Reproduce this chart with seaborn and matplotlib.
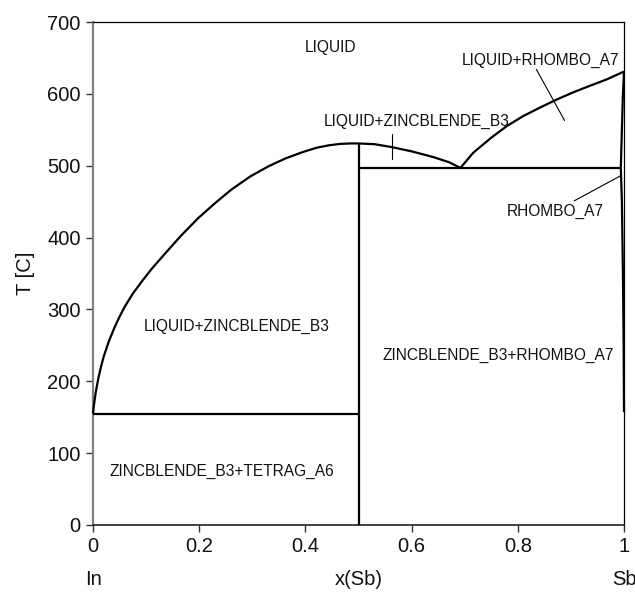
import matplotlib
matplotlib.use("Agg")
import matplotlib.pyplot as plt
import matplotlib.transforms as mtransforms
import seaborn as sns
import pandas as pd

sns.set_style("ticks")
plt.rcParams["font.family"] = ["Liberation Sans", "DejaVu Sans"]

# ---- phase boundary data (x(Sb), T [C]) ----
liq_left_x = [0.0, 0.002, 0.005, 0.010, 0.015, 0.020, 0.030, 0.040, 0.050, 0.060, 0.075,
              0.092, 0.110, 0.136, 0.165, 0.198, 0.230, 0.261, 0.296, 0.330, 0.362,
              0.395, 0.421, 0.445, 0.465, 0.485, 0.500]
liq_left_T = [155, 168, 184, 204, 220, 234, 256, 274, 290, 304, 322,
              339, 356, 378, 402, 427, 448, 467, 485, 499, 510,
              519, 525, 528.5, 530.3, 531, 531]

liq_mid_x = [0.500, 0.530, 0.562, 0.600, 0.641, 0.670, 0.692]
liq_mid_T = [531, 530, 526, 520, 512, 505, 497]

liq_right_x = [0.692, 0.716, 0.750, 0.779, 0.810, 0.842, 0.873, 0.904, 0.935, 0.967, 1.000]
liq_right_T = [497, 518, 539, 555, 569, 581, 592, 602, 611, 620, 631]

solidus_sb_x = [1.000, 0.998, 0.996, 0.994]
solidus_sb_T = [631, 600, 550, 497]

solvus_sb_x = [0.994, 0.996, 0.998, 0.9993, 1.000]
solvus_sb_T = [497, 450, 350, 250, 157]

eut_low_x = [0.0, 0.5]
eut_low_T = [155, 155]
eut_high_x = [0.5, 0.994]
eut_high_T = [497, 497]
compound_x = [0.5, 0.5]
compound_T = [0, 531]

# ---- labels ----
region_labels = ["LIQUID", "LIQUID+ZINCBLENDE_B3", "LIQUID+RHOMBO_A7", "RHOMBO_A7",
                 "LIQUID+ZINCBLENDE_B3", "ZINCBLENDE_B3+RHOMBO_A7", "ZINCBLENDE_B3+TETRAG_A6"]
label_x = [0.448, 0.610, 0.842, 0.870, 0.271, 0.763, 0.242]
label_T = [664, 561, 646, 437, 276, 236, 74]

pointer_x0 = [0.563, 0.835, 0.906]
pointer_T0 = [544, 634, 451]
pointer_x1 = [0.563, 0.888, 0.9936]
pointer_T1 = [510, 563, 486]

x_ticks = [0, 0.2, 0.4, 0.6, 0.8, 1]
x_tick_labels = ["0", "0.2", "0.4", "0.6", "0.8", "1"]
y_ticks = [0, 100, 200, 300, 400, 500, 600, 700]

fig = plt.figure(figsize=(6.35, 5.97), dpi=100)
ax = fig.add_axes([93 / 635, 1 - 525 / 597, (624 - 93) / 635, (525 - 22) / 597])

segments = [
    (liq_left_x, liq_left_T), (liq_mid_x, liq_mid_T), (liq_right_x, liq_right_T),
    (solidus_sb_x, solidus_sb_T), (solvus_sb_x, solvus_sb_T),
    (eut_low_x, eut_low_T), (eut_high_x, eut_high_T), (compound_x, compound_T),
]
for xs, ts in segments:
    df = pd.DataFrame({"x": xs, "T": ts})
    sns.lineplot(data=df, x="x", y="T", sort=False, estimator=None, color="black",
                 linewidth=1.6, ax=ax, solid_capstyle="butt", solid_joinstyle="round",
                 clip_on=False, zorder=3)

for x0, t0, x1, t1 in zip(pointer_x0, pointer_T0, pointer_x1, pointer_T1):
    df = pd.DataFrame({"x": [x0, x1], "T": [t0, t1]})
    sns.lineplot(data=df, x="x", y="T", sort=False, estimator=None, color="black",
                 linewidth=0.8, ax=ax)

for s, x, t in zip(region_labels, label_x, label_T):
    ax.text(x, t, s, ha="center", va="center", fontsize=11.2, color="#111111")

ax.set_xlim(0, 1)
ax.set_ylim(0, 700)
ax.set_xticks(x_ticks)
ax.set_xticklabels(x_tick_labels)
ax.set_yticks(y_ticks)
ax.tick_params(axis="both", labelsize=14.5, length=5, width=1, direction="out",
               color="#333333", labelcolor="#111111", pad=4)
ax.set_xlabel("")
ax.set_ylabel("T [C]", fontsize=14.5, color="#111111", labelpad=9)

for side in ["top", "right"]:
    ax.spines[side].set_visible(True)
    ax.spines[side].set_color("black")
    ax.spines[side].set_linewidth(0.9)
ax.spines["left"].set_color("#808080")
ax.spines["left"].set_linewidth(1.6)
ax.spines["bottom"].set_color("#222222")
ax.spines["bottom"].set_linewidth(1.2)

trans = mtransforms.blended_transform_factory(ax.transData, ax.transAxes)
for s, x in zip(["In", "x(Sb)", "Sb"], [0.0, 0.5, 1.0]):
    ax.text(x, -0.109, s, transform=trans, ha="center", va="center",
            fontsize=14.5, color="#111111")

fig.savefig("out.png", dpi=100)
